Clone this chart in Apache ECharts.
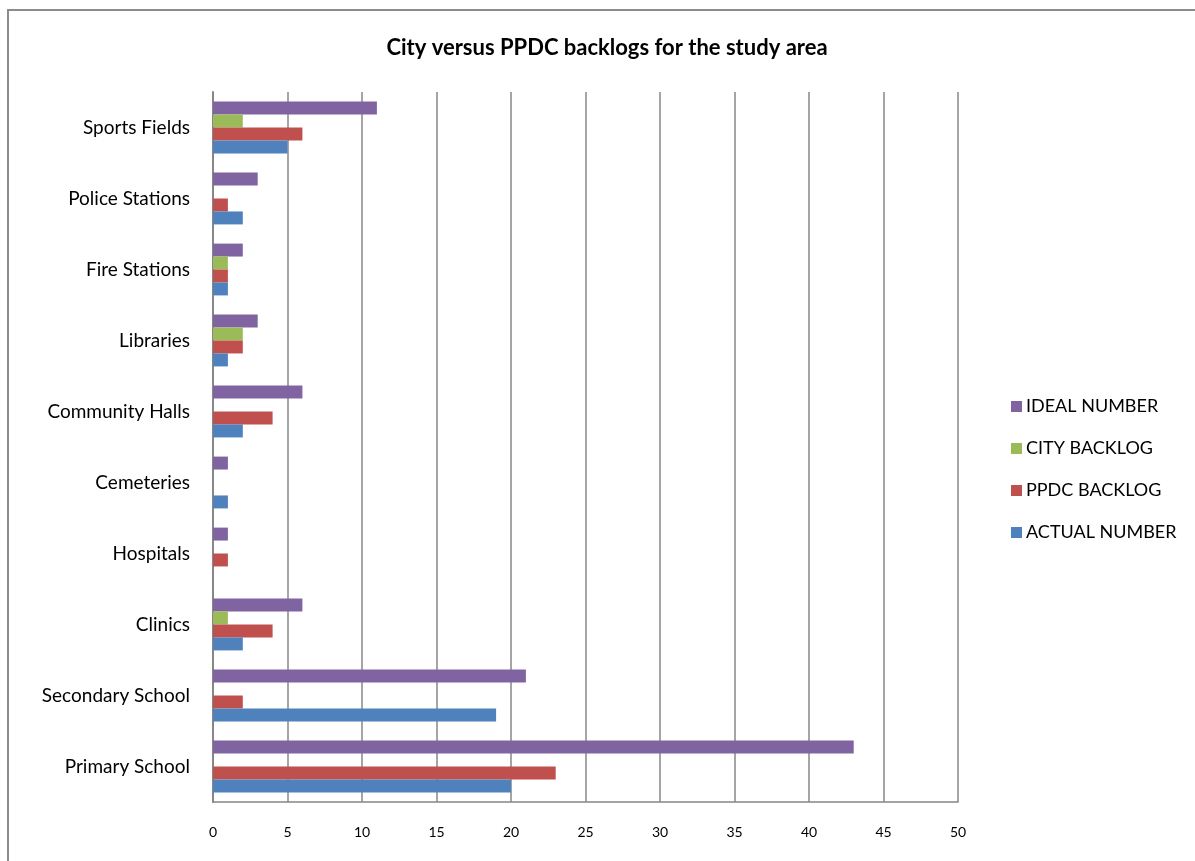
<!DOCTYPE html>
<html>
<head>
<meta charset="utf-8">
<script src="https://cdn.jsdelivr.net/npm/echarts@6/dist/echarts.min.js"></script>
<style>
html,body{margin:0;padding:0;background:#fff;}
#chart{width:1195px;height:861px;}
</style>
</head>
<body>
<div id="chart"></div>
<script>
const categories = ['Primary School','Secondary School','Clinics','Hospitals','Cemeteries','Community Halls','Libraries','Fire Stations','Police Stations','Sports Fields'];
const actualNumber = [20, 19, 2, 0, 1, 2, 1, 1, 2, 5];
const ppdcBacklog  = [23, 2, 4, 1, 0, 4, 2, 1, 1, 6];
const cityBacklog  = [0, 0, 1, 0, 0, 0, 2, 1, 0, 2];
const idealNumber  = [43, 21, 6, 1, 1, 6, 3, 2, 3, 11];
const xTicks = [0, 5, 10, 15, 20, 25, 30, 35, 40, 45, 50];

const chart = echarts.init(document.getElementById('chart'));
const font = 'Lato, "Open Sans", sans-serif';
function s(name, data, color){
  return {name:name, type:'bar', data:data, barGap:0, barCategoryGap:'27%',
    itemStyle:{color:color}, emphasis:{disabled:true}};
}
chart.setOption({
  animation:false,
  backgroundColor:'#fff',
  graphic:[{type:'rect', shape:{x:8, y:10, width:1300, height:1000},
    style:{fill:'none', stroke:'#8c8c8c', lineWidth:2}, silent:true}],
  title:{text:'City versus PPDC backlogs for the study area', left:602, textAlign:'center', top:32,
    textStyle:{fontFamily:font, fontSize:22, fontWeight:'bold', color:'#000'}},
  legend:{orient:'vertical', left:1006, top:392, itemGap:23, itemWidth:11, itemHeight:11,
    icon:'rect', data:['IDEAL NUMBER','CITY BACKLOG','PPDC BACKLOG','ACTUAL NUMBER'],
    textStyle:{fontFamily:font, fontSize:18, lineHeight:19, color:'#000', padding:[0,0,0,-1]}},
  grid:{left:213, top:92, width:745, height:710},
  xAxis:{type:'value', min:0, max:50, interval:5,
    axisLine:{show:true, lineStyle:{color:'#878787', width:1.5}},
    axisTick:{show:false},
    splitLine:{show:true, lineStyle:{color:'#878787', width:1.5}},
    axisLabel:{fontFamily:font, fontSize:14, color:'#000', margin:23,
      formatter:function(v){return xTicks.indexOf(v)>=0 ? String(v) : '';}}},
  yAxis:{type:'category', data:categories,
    axisLine:{show:true, lineStyle:{color:'#878787', width:2}},
    axisTick:{show:false},
    axisLabel:{fontFamily:font, fontSize:19, color:'#000', margin:23}},
  series:[
    s('IDEAL NUMBER', idealNumber, '#8064A2'),
    s('CITY BACKLOG', cityBacklog, '#9BBB59'),
    s('PPDC BACKLOG', ppdcBacklog, '#C0504D'),
    s('ACTUAL NUMBER', actualNumber, '#4F81BD')
  ]
});
</script>
</body>
</html>
